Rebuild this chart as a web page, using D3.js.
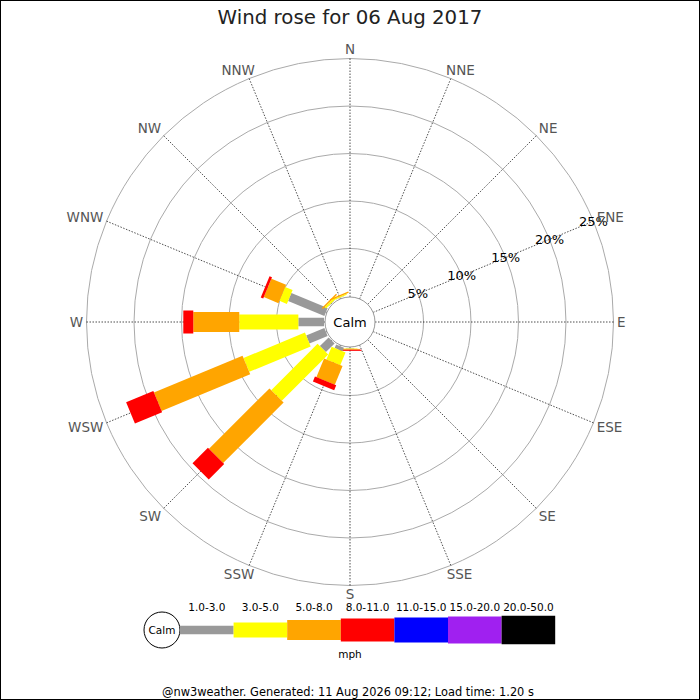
<!DOCTYPE html>
<html>
<head>
<meta charset="utf-8">
<script src="https://cdn.jsdelivr.net/npm/d3@7"></script>
<style>
  body { margin: 0; background: #fff; }
  svg { font-family: "DejaVu Sans", sans-serif; display: block; }
</style>
</head>
<body>
<svg id="rose" width="700" height="700"></svg>
<script>
// directions, clockwise from north
const directions = ['N', 'NNE', 'NE', 'ENE', 'E', 'ESE', 'SE', 'SSE',
                    'S', 'SSW', 'SW', 'WSW', 'W', 'WNW', 'NW', 'NNW'];

// percent of time per speed band (mph), same order as directions
const band1to3   = [0, 0, 0, 0, 0, 0, 0, 0, 0.05, 0.40, 1.30, 2.07, 2.70, 4.13, 0.05, 0.05];
const band3to5   = [0, 0, 0, 0, 0, 0, 0, 0, 0.05, 1.45, 6.90, 7.00, 6.22, 0.85, 0.20, 0.10];
const band5to8   = [0, 0, 0, 0, 0, 0, 0, 0, 0.08, 2.13, 9.00, 10.10, 4.84, 1.67, 0.15, 0.15];
const band8to11  = [0, 0, 0, 0, 0, 0, 0, 0, 0.12, 0.56, 2.30, 3.10, 1.05, 0.28, 0, 0];
const band11to15 = [0, 0, 0, 0, 0, 0, 0, 0, 0, 0, 0, 0, 0, 0, 0, 0];
const band15to20 = [0, 0, 0, 0, 0, 0, 0, 0, 0, 0, 0, 0, 0, 0, 0, 0];
const band20to50 = [0, 0, 0, 0, 0, 0, 0, 0, 0, 0, 0, 0, 0, 0, 0, 0];

const bandLabels = ['1.0-3.0', '3.0-5.0', '5.0-8.0', '8.0-11.0', '11.0-15.0', '15.0-20.0', '20.0-50.0'];
const ringTicks = [5, 10, 15, 20, 25];

const bands = [band1to3, band3to5, band5to8, band8to11, band11to15, band15to20, band20to50];
const colors = ['#999999', '#ffff00', '#ffa500', '#ff0000', '#0000ff', '#a020f0', '#000000'];
const widths = [8.5, 15, 20, 23, 25, 27, 28.5];

const svg = d3.select('#rose');
const cx = 350, cy = 322;
const calmR = 25;

const r = d3.scaleLinear().domain([0, 25]).range([26, 263.5]);
const angle = d3.scalePoint().domain(directions).range([0, 360 - 22.5]);

// frame
svg.append('rect')
    .attr('x', 0.5).attr('y', 0.5)
    .attr('width', 699).attr('height', 699)
    .attr('fill', '#fff')
    .attr('stroke', '#000');

svg.append('text')
    .attr('x', 350).attr('y', 24)
    .attr('text-anchor', 'middle')
    .attr('font-size', 19.8)
    .attr('fill', '#222')
    .text('Wind rose for 06 Aug 2017');

const g = svg.append('g').attr('transform', `translate(${cx},${cy})`);

// rings
g.selectAll('circle.ring')
    .data(ringTicks)
    .enter()
    .append('circle')
    .attr('class', 'ring')
    .attr('r', d => r(d))
    .attr('fill', 'none')
    .attr('stroke', '#aaa')
    .attr('stroke-width', 1);

// spokes
const unit = a => [Math.sin(a * Math.PI / 180), -Math.cos(a * Math.PI / 180)];

g.selectAll('line.spoke')
    .data(directions)
    .enter()
    .append('line')
    .attr('class', 'spoke')
    .attr('x1', d => unit(angle(d))[0] * calmR)
    .attr('y1', d => unit(angle(d))[1] * calmR)
    .attr('x2', d => unit(angle(d))[0] * r(25))
    .attr('y2', d => unit(angle(d))[1] * r(25))
    .attr('stroke', '#222')
    .attr('stroke-width', 0.8)
    .attr('stroke-dasharray', '1.5,1.5');

// stacked bars
const segments = [];
directions.forEach((dir, i) => {
    let start = 0;
    bands.forEach((band, b) => {
        const v = band[i];
        if (v > 0) {
            segments.push({ dir, b, from: start, to: start + v });
        }
        start += v;
    });
});

g.selectAll('rect.bar')
    .data(segments)
    .enter()
    .append('rect')
    .attr('class', 'bar')
    .attr('x', d => -widths[d.b] / 2)
    .attr('y', d => -r(d.to))
    .attr('width', d => widths[d.b])
    .attr('height', d => r(d.to) - r(d.from))
    .attr('fill', d => colors[d.b])
    .attr('transform', d => `rotate(${angle(d.dir)})`);

// calm circle
g.append('circle')
    .attr('r', calmR)
    .attr('fill', '#fff')
    .attr('stroke', '#999');

g.append('text')
    .attr('y', 5)
    .attr('text-anchor', 'middle')
    .attr('font-size', 13)
    .attr('fill', '#000')
    .text('Calm');

// ring labels along ENE spoke
g.selectAll('text.tick')
    .data(ringTicks)
    .enter()
    .append('text')
    .attr('class', 'tick')
    .attr('x', d => unit(67.5)[0] * r(d))
    .attr('y', d => unit(67.5)[1] * r(d))
    .attr('dy', '0.35em')
    .attr('text-anchor', 'middle')
    .attr('font-size', 13)
    .attr('fill', '#000')
    .text(d => d + '%');

// direction labels, pushed off the outer ring depending on angle
const side = t => Math.max(-1, Math.min(1, t * 1.5));

g.selectAll('text.dir')
    .data(directions)
    .enter()
    .append('text')
    .attr('class', 'dir')
    .attr('font-size', 13.5)
    .attr('fill', '#555')
    .attr('text-anchor', 'middle')
    .attr('dy', '0.35em')
    .text(d => d)
    .each(function (d) {
        const [ux, uy] = unit(angle(d));
        const box = this.getBBox();
        const pad = r(25) + 3.5;
        const x = ux * pad + side(ux) * box.width / 2;
        const y = uy * pad + side(uy) * 5.3;
        d3.select(this).attr('x', x).attr('y', y);
    });

// legend
const legendX = 180, legendW = 53.6, legendY = 630;

svg.append('circle')
    .attr('cx', 162).attr('cy', legendY)
    .attr('r', 18)
    .attr('fill', '#fff')
    .attr('stroke', '#000');

svg.append('text')
    .attr('x', 162).attr('y', legendY + 3.5)
    .attr('text-anchor', 'middle')
    .attr('font-size', 10.5)
    .text('Calm');

const lx = d3.scaleBand().domain(bandLabels).range([legendX, legendX + legendW * 7]);

svg.selectAll('rect.leg')
    .data(bandLabels)
    .enter()
    .append('rect')
    .attr('class', 'leg')
    .attr('x', d => lx(d))
    .attr('y', (d, i) => legendY - widths[i] / 2)
    .attr('width', lx.bandwidth())
    .attr('height', (d, i) => widths[i])
    .attr('fill', (d, i) => colors[i]);

svg.selectAll('text.leg')
    .data(bandLabels)
    .enter()
    .append('text')
    .attr('class', 'leg')
    .attr('x', d => lx(d) + lx.bandwidth() / 2)
    .attr('y', 611)
    .attr('text-anchor', 'middle')
    .attr('font-size', 10.5)
    .text(d => d);

svg.append('text')
    .attr('x', 350).attr('y', 658)
    .attr('text-anchor', 'middle')
    .attr('font-size', 10.5)
    .text('mph');

svg.append('text')
    .attr('x', 348).attr('y', 696)
    .attr('text-anchor', 'middle')
    .attr('font-size', 11.4)
    .text('@nw3weather. Generated: 11 Aug 2026 09:12; Load time: 1.20 s');
</script>
</body>
</html>
